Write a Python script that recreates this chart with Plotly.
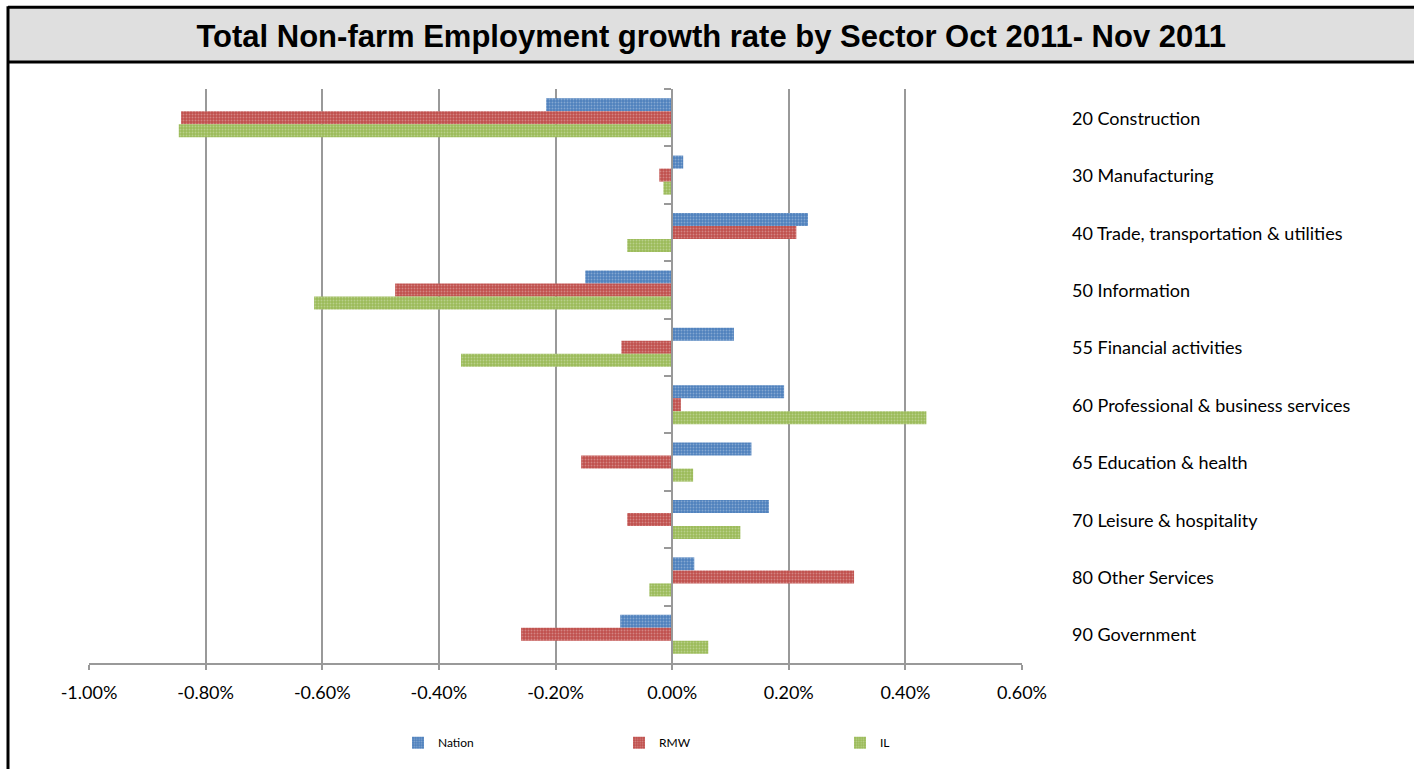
import plotly.graph_objects as go

categories = [
    "20 Construction",
    "30 Manufacturing",
    "40 Trade, transportation & utilities",
    "50 Information",
    "55 Financial activities",
    "60 Professional & business services",
    "65 Education & health",
    "70 Leisure & hospitality",
    "80 Other Services",
    "90 Government",
]
nation = [-0.216, 0.019, 0.233, -0.149, 0.106, 0.192, 0.136, 0.166, 0.038, -0.089]
rmw = [-0.842, -0.022, 0.213, -0.475, -0.087, 0.015, -0.156, -0.077, 0.312, -0.259]
il = [-0.846, -0.015, -0.077, -0.614, -0.362, 0.436, 0.036, 0.117, -0.039, 0.062]

series_names = ["Nation", "RMW", "IL"]
series_colors = ["#4f81bd", "#c0504d", "#9bbb59"]
x_ticks = [-1.0, -0.8, -0.6, -0.4, -0.2, 0.0, 0.2, 0.4, 0.6]
x_tick_labels = ["-1.00%", "-0.80%", "-0.60%", "-0.40%", "-0.20%", "0.00%", "0.20%", "0.40%", "0.60%"]

W, H = 1414, 769
ML, MR, MT, MB = 89, W - 1022, 89, H - 665
PW, PH = W - ML - MR, H - MT - MB


def px_x(p):
    return (p - ML) / PW


def px_y(p):
    return (H - MB - p) / PH


fig = go.Figure()
for name, vals, col in zip(series_names, [nation, rmw, il], series_colors):
    fig.add_trace(go.Bar(
        name=name, y=categories, x=vals, orientation="h",
        marker=dict(
            color=col, line=dict(width=0),
            pattern=dict(shape=".", size=3, solidity=0.3, fgcolor="white",
                         fgopacity=0.3, fillmode="overlay"),
        ),
    ))

annotations = [
    dict(x=px_x(1070), xref="paper", y=c, yref="y", text=c, showarrow=False,
         xanchor="left", yanchor="middle",
         font=dict(family="Lato", size=18, color="black"))
    for c in categories
]

shapes = [
    # title band
    dict(type="rect", xref="paper", yref="paper",
         x0=px_x(8), x1=px_x(1420), y0=px_y(62), y1=px_y(7),
         fillcolor="#dfdfdf", line=dict(width=0), layer="below"),
    dict(type="line", xref="paper", yref="paper",
         x0=px_x(8), x1=px_x(1420), y0=px_y(7), y1=px_y(7),
         line=dict(color="black", width=3)),
    dict(type="line", xref="paper", yref="paper",
         x0=px_x(8), x1=px_x(1420), y0=px_y(62), y1=px_y(62),
         line=dict(color="black", width=3)),
    dict(type="line", xref="paper", yref="paper",
         x0=px_x(8), x1=px_x(8), y0=px_y(6), y1=px_y(775),
         line=dict(color="black", width=3)),
]

fig.update_layout(
    width=W, height=H,
    margin=dict(l=ML, r=MR, t=MT, b=MB),
    paper_bgcolor="white", plot_bgcolor="white",
    barmode="group", bargap=0.32, bargroupgap=0,
    title=dict(text="<b>Total Non-farm Employment growth rate by Sector Oct 2011- Nov 2011</b>",
               x=0.503, xref="container", y=1 - 36 / H, yref="container",
               xanchor="center", yanchor="middle",
               font=dict(family="Liberation Sans", size=31, color="black")),
    xaxis=dict(range=[-1.0, 0.6], tickvals=x_ticks, ticktext=x_tick_labels,
               showgrid=True, gridcolor="#999999", gridwidth=1.5,
               zeroline=False, showline=True, linecolor="#999999", linewidth=1.5,
               ticks="outside", ticklen=5, tickcolor="#999999", tickwidth=1.5,
               ticklabelstandoff=8,
               tickfont=dict(family="Lato", size=18, color="black")),
    yaxis=dict(categoryorder="array", categoryarray=categories, autorange="reversed",
               showticklabels=False, showgrid=False, zeroline=False,
               showline=True, linecolor="#999999", linewidth=1.5,
               ticks="outside", ticklen=7, tickcolor="#999999", tickwidth=1.5,
               tickson="boundaries", anchor="free", position=0.625),
    legend=dict(orientation="h", x=px_x(398), y=px_y(745), xanchor="left", yanchor="middle",
                entrywidth=176, entrywidthmode="pixels", traceorder="normal",
                font=dict(family="Lato", size=12, color="black"), itemwidth=30),
    annotations=annotations,
    shapes=shapes,
)

fig.write_html("out.html")
